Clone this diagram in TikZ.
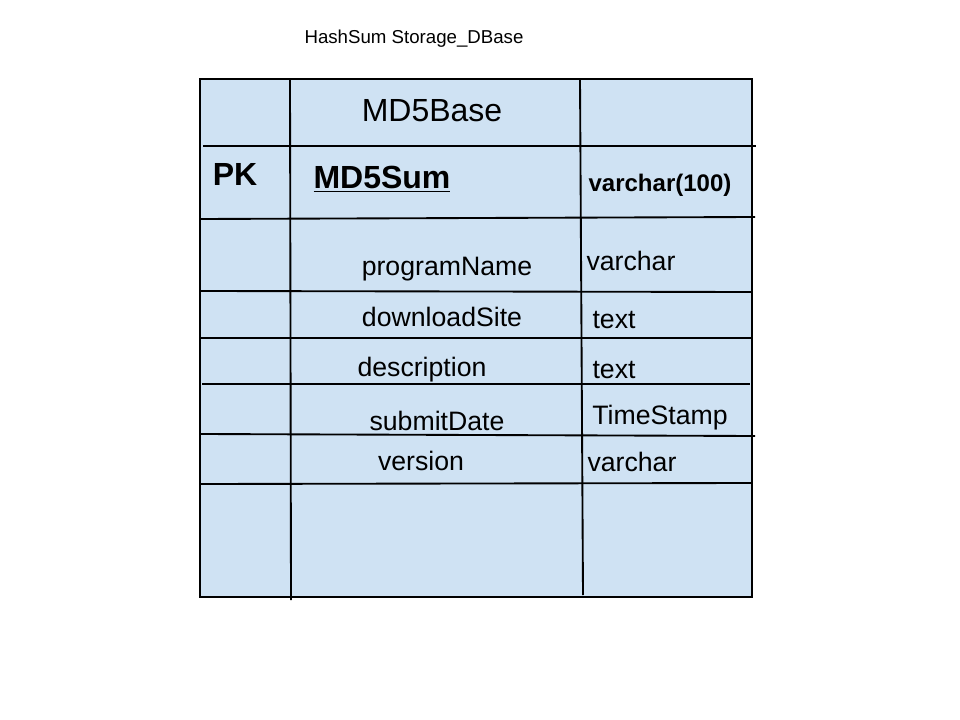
\documentclass[tikz,border=0pt]{standalone}
\usepackage{fontspec}
\setmainfont{Liberation Sans}
\definecolor{tablebg}{HTML}{CFE2F3}
\begin{document}
\begin{tikzpicture}[x=0.75pt, y=-0.75pt, line width=1.4pt,
    field/.style={anchor=base, inner sep=0pt, font=\fontsize{20}{24}\selectfont},
    keyfield/.style={anchor=base, inner sep=0pt, font=\fontsize{24}{28}\selectfont\bfseries}]
\useasboundingbox (0,0) rectangle (960,720);
\fill[tablebg] (200,79) rectangle (752,597);
\draw (200,79) -- (752,79) -- (752,597) -- (200,597) -- cycle;
% columns
\draw (290,80) -- (291,600);
\draw (580,79) -- (583,595);
% rows
\draw (203,146) -- (756,146);
\draw (200,219) -- (755,217);
\draw (200,291) -- (752,292);
\draw (200,338) -- (752,338);
\draw (202,384) -- (750,384);
\draw (200,434) -- (755,436);
\draw (200,484) -- (752,483);
% labels
\node[anchor=base, inner sep=0pt, font=\fontsize{14}{16}\selectfont] (title) at (414,44) {HashSum Storage\_DBase};
\node[anchor=base, inner sep=0pt, font=\fontsize{24}{28}\selectfont] (tname) at (432,122) {MD5Base};
\node[keyfield] (pk) at (235,186) {PK};
\node[keyfield] (md5sum) at (382,189) {\underline{MD5Sum}};
\node[anchor=base, inner sep=0pt, font=\fontsize{18}{21}\selectfont\bfseries] (md5type) at (660,192) {varchar(100)};
\node[field] (progname) at (447,276) {programName};
\node[field] (progtype) at (631,271) {varchar};
\node[field] (site) at (442,326) {downloadSite};
\node[field] (sitetype) at (614,329) {text};
\node[field] (descr) at (422,376) {description};
\node[field] (descrtype) at (614,378) {text};
\node[field] (date) at (437,430) {submitDate};
\node[field] (datetype) at (660,424) {TimeStamp};
\node[field] (version) at (421,470) {version};
\node[field] (versiontype) at (632,471) {varchar};
\end{tikzpicture}
\end{document}
